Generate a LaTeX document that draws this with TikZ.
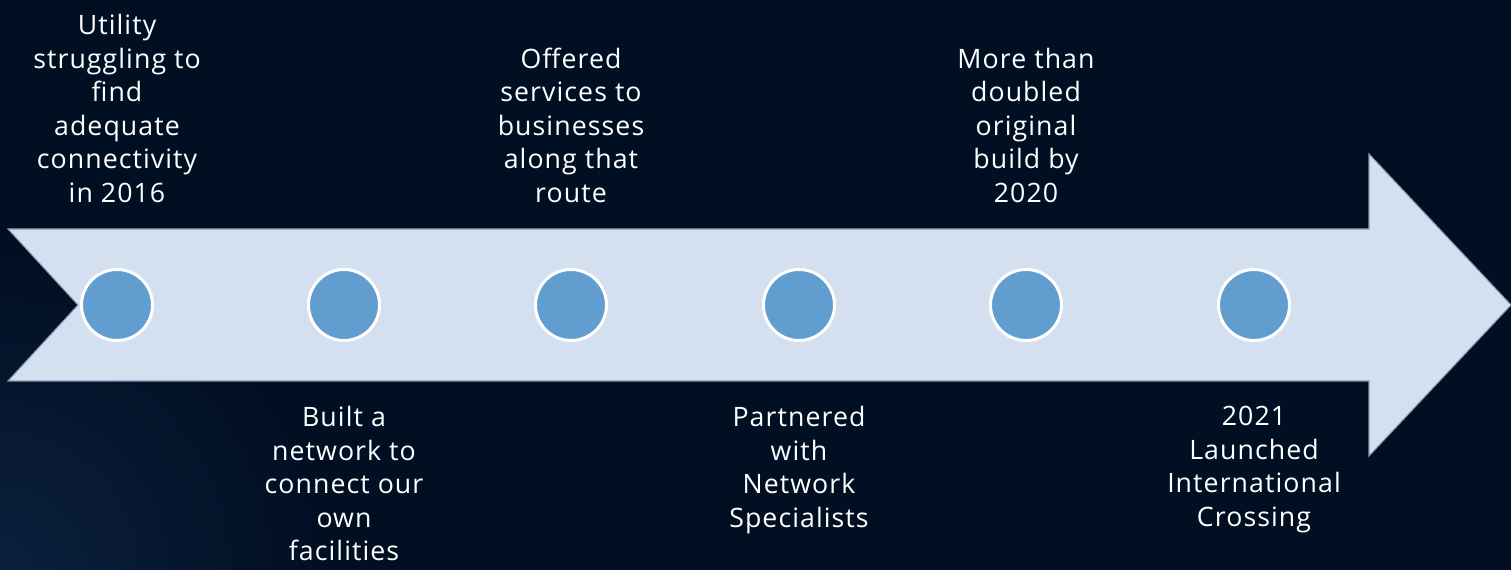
\documentclass[tikz,border=0pt]{standalone}
\usepackage{fontspec}
\setmainfont[LetterSpace=4]{Open Sans}
\usetikzlibrary{calc}

\definecolor{nightbg}{RGB}{1,15,35}
\definecolor{glowbg}{RGB}{16,40,74}
\definecolor{arrowfill}{RGB}{212,224,239}
\definecolor{arrowline}{RGB}{135,152,178}
\definecolor{dotfill}{RGB}{98,157,208}

\tikzstyle{milestone} = [circle, minimum size=71*0.02cm, inner sep=0pt, fill=dotfill, draw=white, line width=3*0.02cm]
\tikzstyle{event} = [align=center, inner sep=0pt, text=white, font=\fontsize{15.2}{19.1}\selectfont]

\begin{document}
\begin{tikzpicture}[x=0.02cm, y=0.02cm]
    % background, with a faint glow low on the left
    \fill[nightbg] (0,0) rectangle (1511,570);
    \begin{scope}
        \clip (0,0) rectangle (1511,570);
        \shade[inner color=glowbg, outer color=nightbg, opacity=0.7] (0,0) circle (330);
    \end{scope}
    \useasboundingbox (0,0) rectangle (1511,570);

    % timeline arrow
    \coordinate (tl) at (8, 341);
    \coordinate (notch) at (78, 265);
    \coordinate (bl) at (8, 189);
    \coordinate (bbody) at (1369, 189);
    \coordinate (bhead) at (1369, 114);
    \coordinate (tip) at (1511, 265);
    \coordinate (thead) at (1369, 416);
    \coordinate (tbody) at (1369, 341);
    \draw[fill=arrowfill, draw=arrowline, line width=0.6pt]
        (tl) -- (notch) -- (bl) -- (bbody) -- (bhead) -- (tip) -- (thead) -- (tbody) -- cycle;

    % milestones along the arrow
    \foreach \i/\xpos in {1/117, 2/344, 3/571, 4/799, 5/1026, 6/1254}
        \node[milestone] (m\i) at (\xpos, 265) {};

    % events above the arrow
    \node[event, anchor=south] (ev1) at ($(m1)+(0,102)$) {Utility\\struggling to\\find\\adequate\\connectivity\\in 2016};
    \node[event, anchor=south] (ev3) at ($(m3)+(0,102)$) {Offered\\services to\\businesses\\along that\\route};
    \node[event, anchor=south] (ev5) at ($(m5)+(0,102)$) {More than\\doubled\\original\\build by\\2020};

    % events below the arrow
    \node[event, anchor=north] (ev2) at ($(m2)+(0,-101)$) {Built a\\network to\\connect our\\own\\facilities};
    \node[event, anchor=north] (ev4) at ($(m4)+(0,-101)$) {Partnered\\with\\Network\\Specialists};
    \node[event, anchor=north] (ev6) at ($(m6)+(0,-101)$) {2021\\Launched\\International\\Crossing};
\end{tikzpicture}
\end{document}
